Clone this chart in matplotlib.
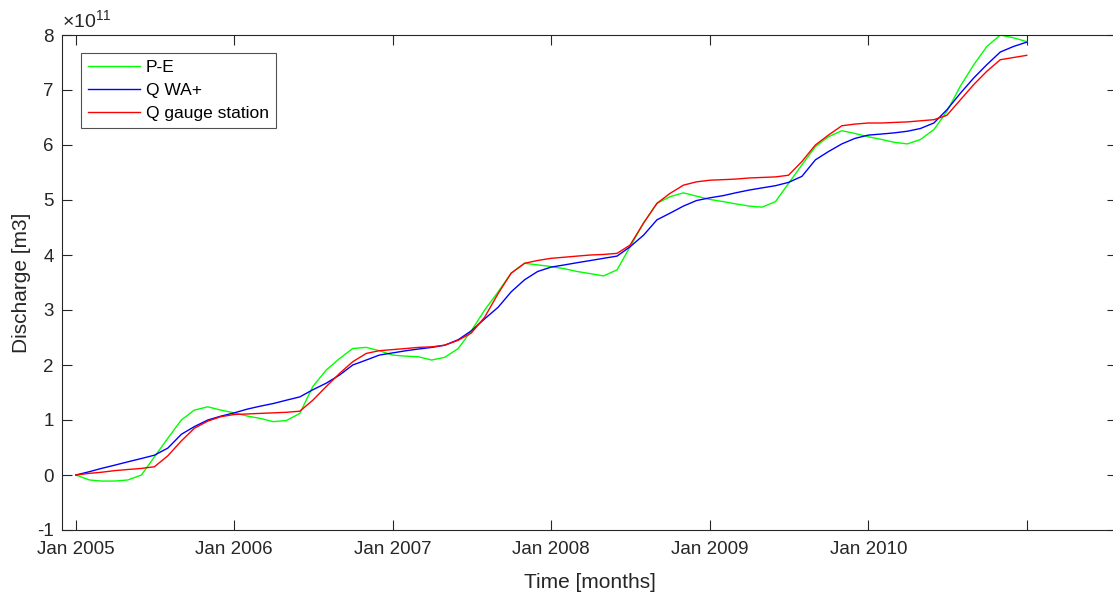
import matplotlib
matplotlib.use('Agg')
import matplotlib.pyplot as plt
import matplotlib.dates as mdates
from matplotlib.ticker import FuncFormatter, FixedLocator
import pandas as pd
import datetime as dt

plt.rcParams['font.family'] = ['Liberation Sans', 'DejaVu Sans']
plt.rcParams['mathtext.fontset'] = 'custom'
plt.rcParams['mathtext.rm'] = 'Liberation Sans'
plt.rcParams['mathtext.it'] = 'Liberation Sans'
plt.rcParams['axes.unicode_minus'] = False

# monthly cumulative values, units of 1e11 m3
months = pd.date_range('2005-01-01', '2011-01-01', freq='MS')

p_minus_e = [0.00, -0.09, -0.11, -0.11, -0.09, 0.00, 0.33, 0.67, 1.00, 1.18, 1.24, 1.18,
             1.13, 1.07, 1.03, 0.97, 0.99, 1.12, 1.61, 1.91, 2.12, 2.30, 2.32, 2.26,
             2.18, 2.16, 2.15, 2.09, 2.14, 2.30, 2.62, 3.00, 3.33, 3.67, 3.85, 3.82,
             3.79, 3.75, 3.70, 3.66, 3.62, 3.73, 4.15, 4.58, 4.94, 5.06, 5.13, 5.07,
             5.01, 4.97, 4.93, 4.89, 4.87, 4.97, 5.30, 5.64, 5.97, 6.15, 6.26, 6.21,
             6.15, 6.10, 6.05, 6.02, 6.10, 6.28, 6.61, 7.07, 7.46, 7.79, 8.00, 7.95,
             7.88]
q_wa = [0.00, 0.06, 0.12, 0.18, 0.24, 0.30, 0.36, 0.49, 0.74, 0.88, 1.00, 1.07,
        1.13, 1.20, 1.25, 1.30, 1.36, 1.42, 1.55, 1.67, 1.82, 2.00, 2.09, 2.18,
        2.22, 2.26, 2.29, 2.32, 2.36, 2.46, 2.62, 2.84, 3.05, 3.33, 3.55, 3.70,
        3.78, 3.82, 3.86, 3.90, 3.94, 3.98, 4.15, 4.36, 4.64, 4.76, 4.89, 4.99,
        5.04, 5.08, 5.13, 5.18, 5.22, 5.26, 5.32, 5.43, 5.73, 5.88, 6.02, 6.12,
        6.18, 6.20, 6.22, 6.25, 6.30, 6.40, 6.64, 6.94, 7.22, 7.46, 7.69, 7.79,
        7.87]
q_gauge = [0.00, 0.03, 0.05, 0.08, 0.10, 0.12, 0.15, 0.35, 0.62, 0.85, 0.98, 1.06,
           1.10, 1.11, 1.12, 1.13, 1.14, 1.16, 1.36, 1.61, 1.85, 2.06, 2.21, 2.26,
           2.28, 2.30, 2.32, 2.33, 2.36, 2.45, 2.58, 2.87, 3.30, 3.67, 3.85, 3.90,
           3.94, 3.96, 3.98, 4.00, 4.01, 4.03, 4.18, 4.58, 4.94, 5.12, 5.27, 5.33,
           5.36, 5.37, 5.38, 5.40, 5.41, 5.42, 5.45, 5.70, 6.00, 6.18, 6.35, 6.38,
           6.40, 6.40, 6.41, 6.42, 6.44, 6.46, 6.54, 6.82, 7.10, 7.34, 7.55, 7.59,
           7.63]

tick_years = [2005, 2006, 2007, 2008, 2009, 2010, 2011]
tick_labels = ['Jan 2005', 'Jan 2006', 'Jan 2007', 'Jan 2008', 'Jan 2009', 'Jan 2010', '']

scale = 1e11
dark = '#262626'

fig = plt.figure(figsize=(11.13, 5.93), dpi=100)
# right edge of the axes sits just past the image border, like the cropped original
ax = fig.add_axes([62 / 1113, 63 / 593, 1055 / 1113, 495 / 593])

ax.plot(months, [v * scale for v in p_minus_e], color=(0, 1, 0), lw=1.0, label='P-E')
ax.plot(months, [v * scale for v in q_wa], color=(0, 0, 1), lw=1.0, label='Q WA+')
ax.plot(months, [v * scale for v in q_gauge], color=(1, 0, 0), lw=1.0, label='Q gauge station')

ax.set_xlim(dt.datetime(2004, 11, 30), dt.datetime(2011, 7, 28))
ax.set_ylim(-1 * scale, 8 * scale)

ax.xaxis.set_major_locator(FixedLocator([mdates.date2num(dt.datetime(y, 1, 1)) for y in tick_years]))
ax.set_xticklabels(tick_labels)
ax.yaxis.set_major_locator(FixedLocator([i * scale for i in range(-1, 9)]))
ax.yaxis.set_major_formatter(FuncFormatter(lambda v, pos: '%d' % round(v / scale)))
ax.text(0.0, 1.008, r'$\times\mathregular{10^{11}}$', transform=ax.transAxes,
        fontsize=14, color=dark, ha='left', va='bottom')

ax.tick_params(direction='in', length=7, width=0.8, colors=dark, labelsize=13.5,
               top=True, right=True)
ax.tick_params(axis='x', pad=8)
ax.tick_params(axis='y', pad=6)
for s in ax.spines.values():
    s.set_color(dark)
    s.set_linewidth(0.8)

ax.set_xlabel('Time [months]', fontsize=15, color=dark, labelpad=11)
ax.set_ylabel('Discharge [m3]', fontsize=15, color=dark, labelpad=4)

leg = ax.legend(loc='upper left', bbox_to_anchor=(0.018, 0.964), borderaxespad=0,
                fontsize=12.5, frameon=True, fancybox=False, handlelength=3.0,
                handletextpad=0.3, labelspacing=0.45, borderpad=0.42)
leg.get_frame().set_edgecolor(dark)
leg.get_frame().set_linewidth(0.8)

fig.savefig('out.png', dpi=100)
